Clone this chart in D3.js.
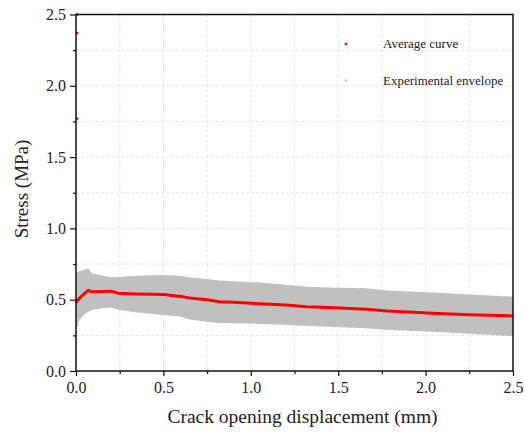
<!DOCTYPE html>
<html>
<head>
<meta charset="utf-8">
<script src="https://cdn.jsdelivr.net/npm/d3@7"></script>
<style>
  body { margin: 0; background: #fff; }
  svg { display: block; }
</style>
</head>
<body>
<div id="chart"></div>
<script>
// crack opening displacement (mm)
var disp = [0, 0.02, 0.05, 0.07, 0.09, 0.15, 0.2, 0.24, 0.35, 0.5, 0.6, 0.65, 0.75, 0.82, 0.9, 1.05, 1.2, 1.32, 1.45, 1.66, 1.78, 1.9, 2.04, 2.25, 2.5]
// average stress (MPa)
var avgStress = [0.48, 0.51, 0.545, 0.565, 0.555, 0.558, 0.56, 0.545, 0.54, 0.537, 0.522, 0.512, 0.5, 0.486, 0.482, 0.472, 0.462, 0.451, 0.445, 0.433, 0.42, 0.413, 0.405, 0.395, 0.386]
// experimental envelope
var upperStress = [0.69, 0.70, 0.71, 0.72, 0.685, 0.67, 0.657, 0.66, 0.668, 0.673, 0.666, 0.655, 0.645, 0.635, 0.63, 0.62, 0.605, 0.59, 0.585, 0.58, 0.565, 0.558, 0.55, 0.537, 0.522]
var lowerStress = [0.29, 0.36, 0.40, 0.415, 0.428, 0.44, 0.445, 0.43, 0.41, 0.393, 0.382, 0.362, 0.345, 0.336, 0.334, 0.33, 0.325, 0.316, 0.31, 0.30, 0.29, 0.283, 0.276, 0.262, 0.245]
// early peak points of the average curve at zero opening
var peakDisp = [0, 0, 0]
var peakStress = [2.5, 2.37, 1.77]

var xTicks = [0, 0.5, 1.0, 1.5, 2.0, 2.5]
var yTicks = [0, 0.5, 1.0, 1.5, 2.0, 2.5]
var minorTicks = [0.25, 0.75, 1.25, 1.75, 2.25]

var legendLabels = ['Average curve', 'Experimental envelope']
var legendColors = ['#ff0000', '#c0c0c0']

var font = '"Liberation Serif", serif'

var margin = {top: 14.5, right: 12, bottom: 63, left: 76},
    width = 437,
    height = 356.5;

var svg = d3.select('#chart').append('svg')
    .attr('width', 525)
    .attr('height', 434)
  .append('g')
    .attr('transform', 'translate(' + margin.left + ',' + margin.top + ')');

var x = d3.scaleLinear().domain([0, 2.5]).range([0, width])
var y = d3.scaleLinear().domain([0, 2.5]).range([height, 0])

// grid
var gridVals = d3.range(0.25, 2.5, 0.25)
svg.append('g').selectAll('line')
    .data(gridVals)
  .enter().append('line')
    .attr('x1', function(d){ return x(d) })
    .attr('x2', function(d){ return x(d) })
    .attr('y1', 0).attr('y2', height)
    .attr('stroke', '#dcdcdc').attr('stroke-width', 0.8)
    .attr('stroke-dasharray', '3,2')
svg.append('g').selectAll('line')
    .data(gridVals)
  .enter().append('line')
    .attr('y1', function(d){ return y(d) })
    .attr('y2', function(d){ return y(d) })
    .attr('x1', 0).attr('x2', width)
    .attr('stroke', '#dcdcdc').attr('stroke-width', 0.8)
    .attr('stroke-dasharray', '3,2')

// envelope
var rows = disp.map(function(d, i){
  return {x: d, avg: avgStress[i], hi: upperStress[i], lo: lowerStress[i]}
})

svg.append('path')
    .datum(rows)
    .attr('fill', '#c0c0c0')
    .attr('d', d3.area()
      .x(function(d){ return x(d.x) })
      .y0(function(d){ return y(d.lo) })
      .y1(function(d){ return y(d.hi) }))

// average curve
svg.append('path')
    .datum(rows)
    .attr('fill', 'none')
    .attr('stroke', '#ff0000')
    .attr('stroke-width', 3)
    .attr('d', d3.line()
      .x(function(d){ return x(d.x) })
      .y(function(d){ return y(d.avg) }))

svg.append('g').selectAll('rect')
    .data(peakStress)
  .enter().append('rect')
    .attr('x', function(d, i){ return x(peakDisp[i]) })
    .attr('y', function(d){ return y(d) - 1.2 })
    .attr('width', 2.4).attr('height', 2.4)
    .attr('fill', '#ff0000')

// axes
svg.append('g')
    .attr('transform', 'translate(0,' + height + ')')
    .call(d3.axisBottom(x).tickValues(xTicks).tickFormat(d3.format('.1f')).tickSize(5).tickPadding(6))
svg.append('g')
    .attr('transform', 'translate(0,' + height + ')')
    .call(d3.axisBottom(x).tickValues(minorTicks).tickFormat('').tickSize(3))
svg.append('g')
    .call(d3.axisLeft(y).tickValues(yTicks).tickFormat(d3.format('.1f')).tickSize(6).tickPadding(4))
svg.append('g')
    .call(d3.axisLeft(y).tickValues(minorTicks).tickFormat('').tickSize(3))

svg.selectAll('.domain').remove()
svg.selectAll('.tick line').attr('stroke', '#111').attr('stroke-width', 1.2)
svg.selectAll('.tick text')
    .attr('font-family', font)
    .attr('font-size', '16px')
    .attr('fill', '#222')

// frame
svg.append('rect')
    .attr('width', width).attr('height', height)
    .attr('fill', 'none')
    .attr('stroke', '#111').attr('stroke-width', 1.5)

// axis titles
svg.append('text')
    .attr('x', (167 + 438) / 2 - margin.left)
    .attr('y', height + 52)
    .attr('text-anchor', 'middle')
    .attr('font-family', font)
    .attr('font-size', '19.5px')
    .attr('fill', '#222')
    .text('Crack opening displacement (mm)')

svg.append('text')
    .attr('transform', 'translate(-48,' + (189 - margin.top) + ') rotate(-90)')
    .attr('text-anchor', 'middle')
    .attr('font-family', font)
    .attr('font-size', '19px')
    .attr('fill', '#222')
    .text('Stress (MPa)')

// legend
var legend = svg.append('g').selectAll('g')
    .data(legendLabels)
  .enter().append('g')
    .attr('transform', function(d, i){ return 'translate(270,' + (29.5 + i * 36.5) + ')' })

legend.append('rect')
    .attr('x', -1.2).attr('y', -1.2)
    .attr('width', 2.4).attr('height', 2.4)
    .attr('fill', function(d, i){ return legendColors[i] })

legend.append('text')
    .attr('x', 37)
    .attr('y', 4)
    .attr('font-family', font)
    .attr('font-size', '13px')
    .attr('fill', '#222')
    .text(function(d){ return d })
</script>
</body>
</html>
